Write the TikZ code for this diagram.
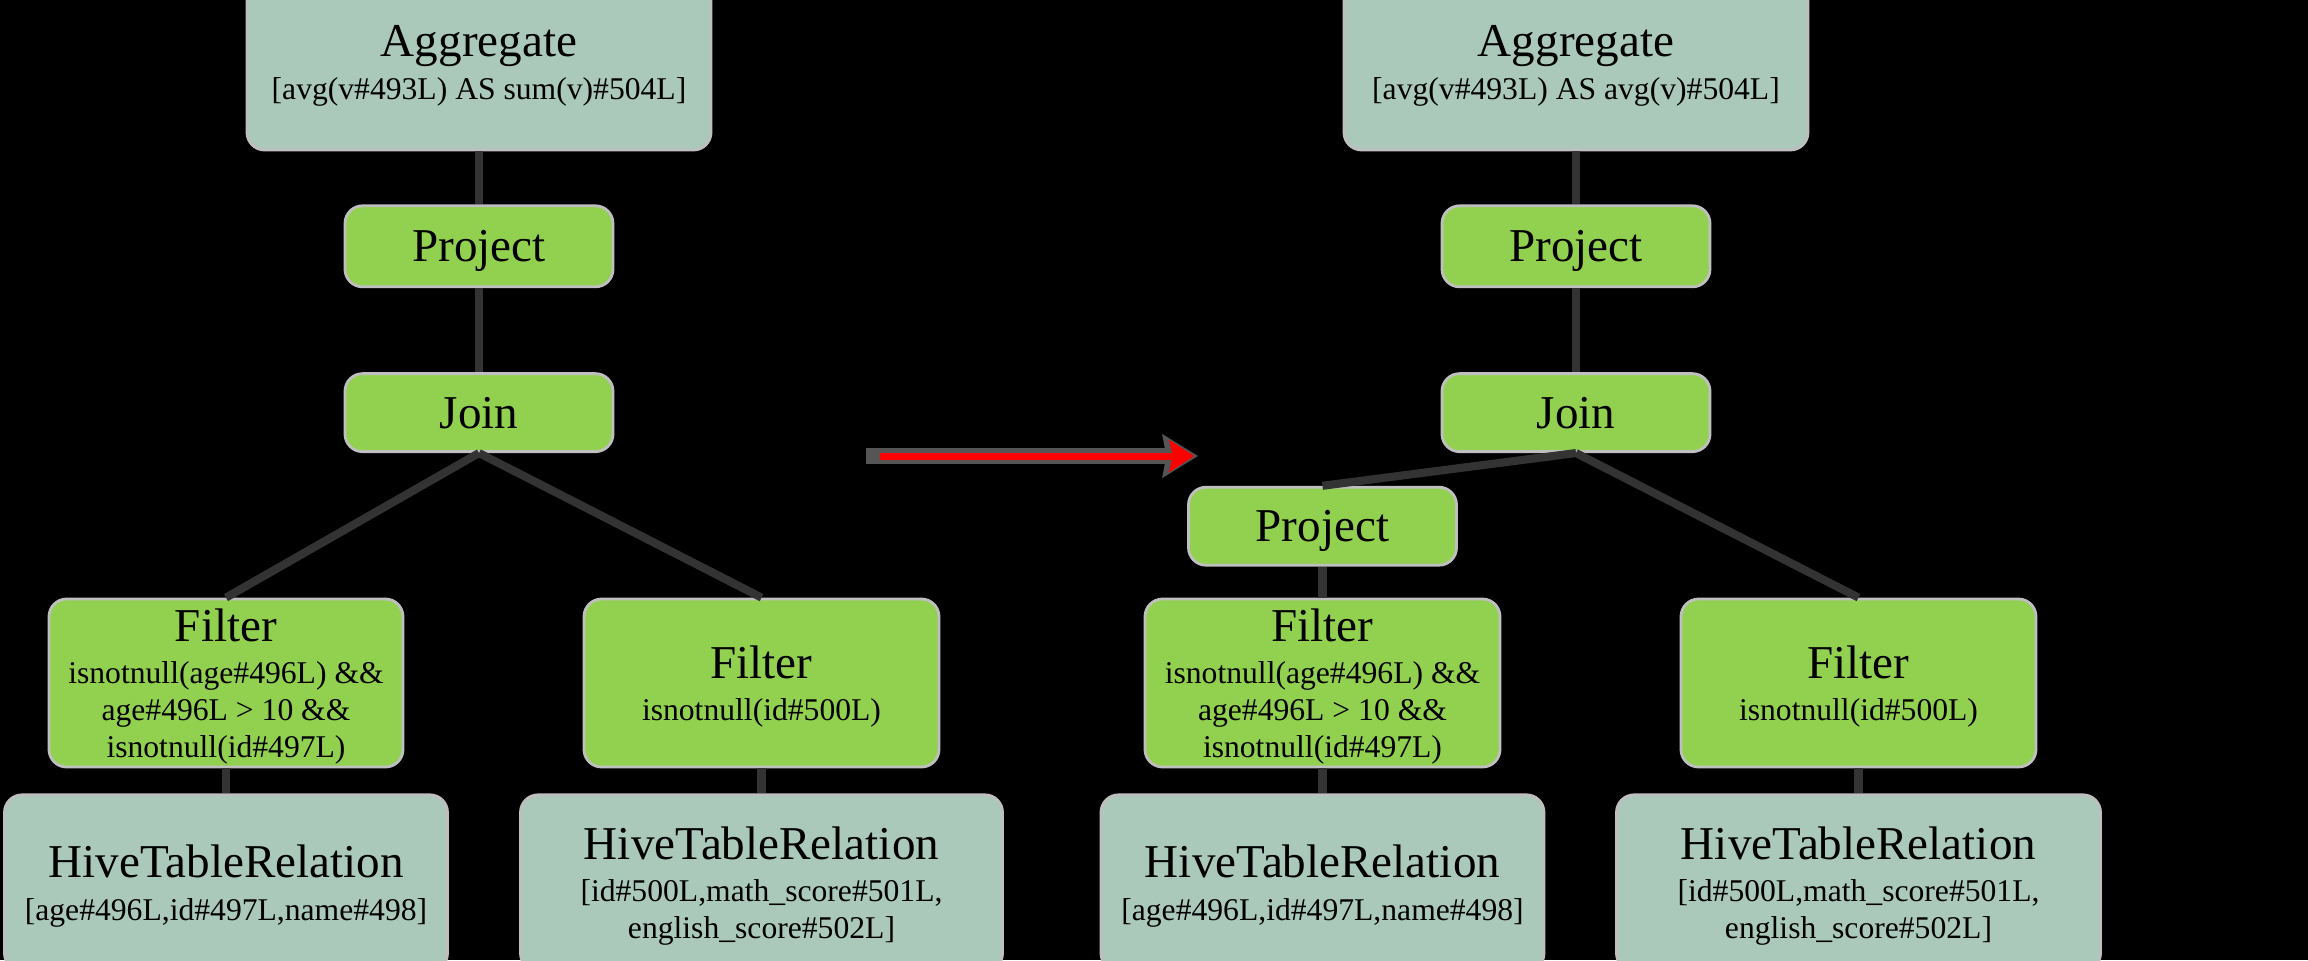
\documentclass[tikz,border=0pt]{standalone}
\usepackage{fontspec}
\setmainfont{Liberation Serif}
\usepackage{xcolor}
\usetikzlibrary{arrows.meta,positioning}
\definecolor{PlanTeal}{HTML}{AAC9BA}
\definecolor{PlanGreen}{HTML}{92D050}
\definecolor{PlanLink}{HTML}{333333}
\definecolor{PlanRim}{HTML}{BFBFBF}
\definecolor{PlanShade}{HTML}{555555}
\definecolor{PlanRed}{HTML}{FF0000}
\newcommand{\optitle}[1]{{\fontsize{13.4}{16}\selectfont #1}}

\begin{document}
\begin{tikzpicture}[
    node distance=0.5cm,
    planbox/.style={rounded corners=5pt,draw=PlanRim,line width=0.8pt,
                align=center,inner sep=0pt,text depth=0pt,
                font=\fontsize{9}{10.5}\selectfont},
    relbox/.style={planbox,fill=PlanTeal},
    opbox/.style={planbox,fill=PlanGreen},
    link/.style={PlanLink,line width=2.3pt},
    rim/.style={-{Stealth[length=10pt,width=12pt,inset=1pt]},PlanShade,line width=4.3pt},
    move/.style={-{Stealth[length=7pt,width=9pt,inset=1pt]},PlanRed,line width=2pt}]

    \useasboundingbox (0,0) rectangle (23.08,-9.60);
    \clip (0,0) rectangle (23.08,-9.60);
    \fill[black] (0,0) rectangle (23.08,-9.60);

    % plan before
    \node[relbox,minimum width=4.64cm,minimum height=1.75cm] (aggL) at (4.79,-0.625)
      {\optitle{Aggregate}\\[1.6pt][avg(v\#493L) AS sum(v)\#504L]};
    \node[opbox,minimum width=2.68cm,minimum height=0.81cm,below=0.53cm of aggL] (projL)
      {\optitle{Project}};
    \node[opbox,minimum width=2.68cm,minimum height=0.78cm,below=0.84cm of projL] (joinL)
      {\optitle{Join}};
    \node[opbox,minimum width=3.54cm,minimum height=1.68cm] (filAL) at (2.26,-6.83)
      {\optitle{Filter}\\[1.6pt]isnotnull(age\#496L) \&\&\\age\#496L > 10 \&\&\\isnotnull(id\#497L)};
    \node[opbox,minimum width=3.55cm,minimum height=1.68cm] (filBL) at (7.615,-6.83)
      {\optitle{Filter}\\[1.6pt]isnotnull(id\#500L)};
    \node[relbox,minimum width=4.43cm,minimum height=1.76cm,below=0.25cm of filAL] (hiveAL)
      {\optitle{HiveTableRelation}\\[1.6pt][age\#496L,id\#497L,name\#498]};
    \node[relbox,minimum width=4.82cm,minimum height=1.76cm,below=0.25cm of filBL] (hiveBL)
      {\optitle{HiveTableRelation}\\[1.6pt][id\#500L,math\_score\#501L,\\english\_score\#502L]};

    \draw[link] (aggL) -- (projL);
    \draw[link] (projL) -- (joinL);
    \draw[link] (joinL.south) -- (filAL.north);
    \draw[link] (joinL.south) -- (filBL.north);
    \draw[link] (filAL) -- (hiveAL);
    \draw[link] (filBL) -- (hiveBL);

    % rewrite arrow
    \coordinate (arrS) at (8.66,-4.56);
    \coordinate (arrE) at (11.98,-4.56);
    \draw[rim] (arrS) -- (arrE);
    \draw[move] ([xshift=1.4mm]arrS) -- ([xshift=-0.4mm]arrE);

    % plan after
    \node[relbox,minimum width=4.64cm,minimum height=1.75cm] (aggR) at (15.76,-0.625)
      {\optitle{Aggregate}\\[1.6pt][avg(v\#493L) AS avg(v)\#504L]};
    \node[opbox,minimum width=2.68cm,minimum height=0.81cm,below=0.53cm of aggR] (projR)
      {\optitle{Project}};
    \node[opbox,minimum width=2.68cm,minimum height=0.78cm,below=0.84cm of projR] (joinR)
      {\optitle{Join}};
    \node[opbox,minimum width=3.55cm,minimum height=1.68cm] (filAR) at (13.225,-6.83)
      {\optitle{Filter}\\[1.6pt]isnotnull(age\#496L) \&\&\\age\#496L > 10 \&\&\\isnotnull(id\#497L)};
    \node[opbox,minimum width=2.68cm,minimum height=0.78cm,above=0.31cm of filAR] (projN)
      {\optitle{Project}};
    \node[opbox,minimum width=3.55cm,minimum height=1.68cm] (filBR) at (18.585,-6.83)
      {\optitle{Filter}\\[1.6pt]isnotnull(id\#500L)};
    \node[relbox,minimum width=4.43cm,minimum height=1.76cm,below=0.25cm of filAR] (hiveAR)
      {\optitle{HiveTableRelation}\\[1.6pt][age\#496L,id\#497L,name\#498]};
    \node[relbox,minimum width=4.84cm,minimum height=1.76cm,below=0.25cm of filBR] (hiveBR)
      {\optitle{HiveTableRelation}\\[1.6pt][id\#500L,math\_score\#501L,\\english\_score\#502L]};

    \draw[link] (aggR) -- (projR);
    \draw[link] (projR) -- (joinR);
    \draw[link] (joinR.south) -- (projN.north);
    \draw[link] (joinR.south) -- (filBR.north);
    \draw[link] (projN) -- (filAR);
    \draw[link] (filAR) -- (hiveAR);
    \draw[link] (filBR) -- (hiveBR);
  \end{tikzpicture}
\end{document}
